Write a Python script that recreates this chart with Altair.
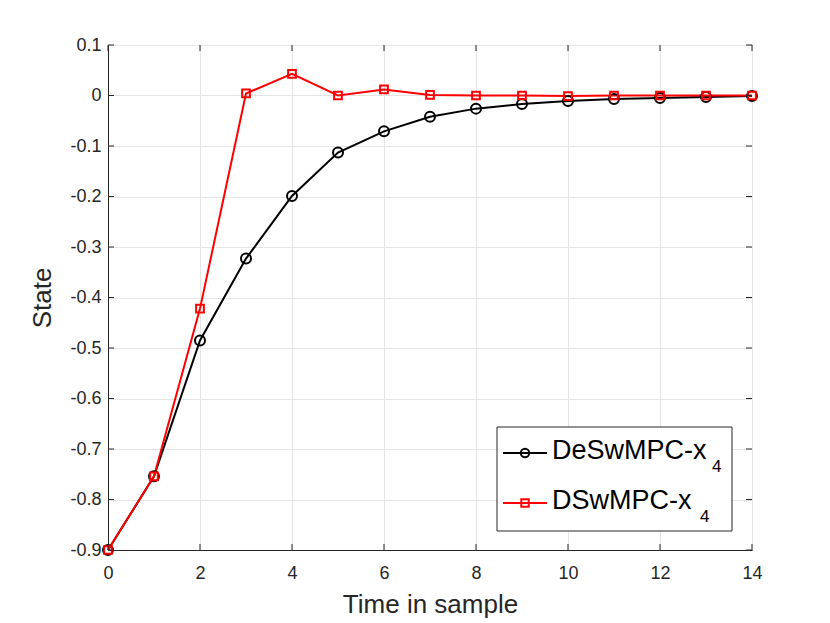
import altair as alt
import pandas as pd

# ---- data ----
time = list(range(15))
deswmpc = [-0.9, -0.754, -0.485, -0.323, -0.199, -0.113, -0.071, -0.042,
           -0.026, -0.017, -0.011, -0.007, -0.005, -0.003, -0.001]
dswmpc = [-0.9, -0.754, -0.422, 0.004, 0.043, 0.0, 0.012, 0.001,
          0.0, 0.0, -0.001, 0.0, 0.0, 0.0, 0.0]
series_names = ["DeSwMPC-x", "DSwMPC-x"]
subscripts = ["4", "4"]
series_colors = ["#000000", "#ff0000"]
series_shapes = ["circle", "square"]
x_ticks = [0, 2, 4, 6, 8, 10, 12, 14]
y_ticks = [round(-0.9 + 0.1 * i, 1) for i in range(11)]

W, H = 644, 505
FONT = "Liberation Sans"
AX = "#262626"

df = pd.DataFrame({
    "t": time * 2,
    "v": deswmpc + dswmpc,
    "s": [series_names[0]] * len(time) + [series_names[1]] * len(time),
})

xs = alt.Scale(domain=[0, 14], nice=False, zero=False)
ys = alt.Scale(domain=[-0.9, 0.1], nice=False, zero=False)
cs = alt.Scale(domain=series_names, range=series_colors)

x_axis = alt.Axis(values=x_ticks, title="Time in sample", grid=True,
                  gridColor="#e5e5e5", tickSize=0, labelPadding=14,
                  labelFlush=False,
                  domainColor=AX, labelColor=AX, labelFontSize=18,
                  labelFont=FONT, titleFont=FONT, titleFontSize=26,
                  titleFontWeight="normal", titleColor=AX, titlePadding=9)
y_axis = alt.Axis(values=y_ticks, title="State", grid=True,
                  gridColor="#e5e5e5", tickSize=0, labelPadding=7,
                  labelFlush=False,
                  labelExpr="abs(datum.value) < 1e-9 ? '0' : replace(format(datum.value, '.1f'), '\u2212', '-')",
                  domainColor=AX, labelColor=AX, labelFontSize=18,
                  labelFont=FONT, titleFont=FONT, titleFontSize=26,
                  titleFontWeight="normal", titleColor=AX, titlePadding=14)

base = alt.Chart(df)

lines = base.mark_line(strokeWidth=2).encode(
    x=alt.X("t:Q", scale=xs, axis=x_axis),
    y=alt.Y("v:Q", scale=ys, axis=y_axis),
    color=alt.Color("s:N", scale=cs, legend=None),
    detail="s:N",
)

circ = base.transform_filter(alt.datum.s == series_names[0]).mark_point(
    shape="circle", filled=False, size=100, strokeWidth=2, opacity=1,
    color=series_colors[0]
).encode(x=alt.X("t:Q", scale=xs), y=alt.Y("v:Q", scale=ys))

sq = base.transform_filter(alt.datum.s == series_names[1]).mark_point(
    shape="square", filled=False, size=60, strokeWidth=2, opacity=1,
    color=series_colors[1]
).encode(x=alt.X("t:Q", scale=xs), y=alt.Y("v:Q", scale=ys))

# inward ticks on all four sides (MATLAB box style)
yt = pd.DataFrame({"y": y_ticks})
xt = pd.DataFrame({"x": x_ticks})
tick_style = dict(color=AX, strokeWidth=1)
lt = alt.Chart(yt).mark_rule(**tick_style).encode(
    y=alt.Y("y:Q", scale=ys), x=alt.value(0), x2=alt.value(6))
rt = alt.Chart(yt).mark_rule(**tick_style).encode(
    y=alt.Y("y:Q", scale=ys), x=alt.value(W - 6), x2=alt.value(W))
bt = alt.Chart(xt).mark_rule(**tick_style).encode(
    x=alt.X("x:Q", scale=xs), y=alt.value(H - 6), y2=alt.value(H))
tt = alt.Chart(xt).mark_rule(**tick_style).encode(
    x=alt.X("x:Q", scale=xs), y=alt.value(0), y2=alt.value(6))

# ---- custom legend (box, line+marker samples, labels with subscript) ----
leg = pd.DataFrame({"name": series_names, "sub": subscripts,
                    "color": series_colors, "shape": series_shapes})
legend_box = alt.Chart(leg.head(1)).mark_rect(
    fill="white", stroke=AX, strokeWidth=1).encode(
    x=alt.value(389), x2=alt.value(624), y=alt.value(382), y2=alt.value(486))

legend_layers = [legend_box]
rows_y = [408, 458]
sub_x = [604, 592]
for i in range(2):
    row = leg.iloc[[i]]
    legend_layers.append(alt.Chart(row).mark_rule(
        color=series_colors[i], strokeWidth=2).encode(
        x=alt.value(395), x2=alt.value(439), y=alt.value(rows_y[i])))
    legend_layers.append(alt.Chart(row).mark_point(
        shape=series_shapes[i], filled=False, strokeWidth=2, opacity=1,
        size=70 if i == 0 else 55, color=series_colors[i]).encode(
        x=alt.value(417), y=alt.value(rows_y[i])))
    legend_layers.append(alt.Chart(row).mark_text(
        align="left", baseline="alphabetic", font=FONT, fontSize=27,
        color="black").encode(
        x=alt.value(444), y=alt.value(rows_y[i] + 6), text="name:N"))
    legend_layers.append(alt.Chart(row).mark_text(
        align="left", baseline="alphabetic", font=FONT, fontSize=17,
        color="black").encode(
        x=alt.value(sub_x[i]), y=alt.value(rows_y[i] + 19), text="sub:N"))

chart = alt.layer(lines, circ, sq, lt, rt, bt, tt, *legend_layers).properties(
    width=W, height=H,
    autosize=alt.AutoSizeParams(type="none"),
    padding={"left": 100, "top": 37, "right": 60, "bottom": 72},
    background="white",
).configure_view(stroke=AX, strokeWidth=1)

chart.save("out.html", embed_options={"renderer": "svg", "actions": False})
